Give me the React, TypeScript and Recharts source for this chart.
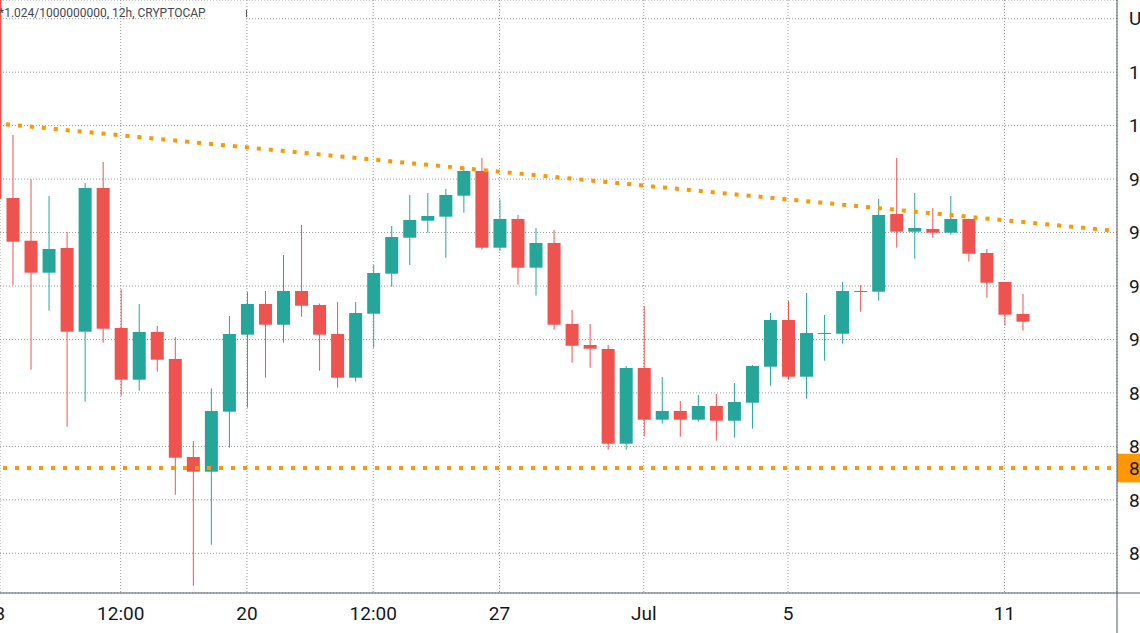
import React from 'react';
import { ComposedChart, Bar, XAxis, YAxis, CartesianGrid, ReferenceLine } from 'recharts';

// 12h candles, index 0 = Jun 13 12:00 (2022)
const slots = [-1, 0, 1, 2, 3, 4, 5, 6, 7, 8, 9, 10, 11, 12, 13, 14, 15, 16, 17, 18, 19, 20, 21, 22, 23, 24, 25, 26, 27, 28, 29, 30, 31, 32, 33, 34, 35, 36, 37, 38, 39, 40, 41, 42, 43, 44, 45, 46, 47, 48, 49, 50, 51, 52, 53, 54, 55, 56];
const opens = [1080, 966.15, 946.18, 931.22, 942.77, 903.63, 970.83, 905.36, 881.18, 903.49, 890.86, 845.04, 838.16, 866.22, 902.23, 916.58, 906.9, 922.66, 916.12, 902.56, 882.12, 912.05, 930.75, 947.59, 955.54, 957.41, 967.23, 978.78, 942.91, 956.33, 933.56, 945.11, 907.23, 897.41, 895.54, 851.25, 886.66, 862.48, 866.55, 862.48, 868.88, 862.01, 870.43, 887.26, 909.1, 882.58, 902.56, 902.69, 922.66, 922.33, 958.67, 950.39, 951.66, 949.93, 956.33, 940.44, 926.87, 911.91];
const highs = [1085, 995.61, 974.9, 967.09, 950.25, 973.17, 982.99, 923.46, 916.58, 906.3, 901.15, 852.52, 877.16, 910.97, 922.2, 922.66, 939.5, 953.53, 916.8, 917.52, 917.52, 934.82, 953.06, 967.56, 968.49, 970.36, 980.79, 984.86, 965.55, 958.2, 952.12, 951.19, 913.78, 907.23, 897.41, 887.59, 915.65, 882.45, 871.22, 874.02, 874.49, 879.64, 888.06, 912.37, 917.98, 921.73, 911.44, 926.87, 925.47, 965.69, 984.86, 968.49, 961.47, 967.09, 956.5, 942.3, 926.87, 921.26];
const lows = [960, 925.47, 885.86, 913.45, 859.2, 870.9, 898.49, 873.7, 876.04, 884.92, 827.4, 784.85, 804.02, 849.38, 868.09, 882.12, 898.49, 910.65, 885.39, 877.44, 880.25, 896.14, 924.67, 934.82, 949.93, 938.24, 959.28, 941.98, 941.51, 925.61, 920.47, 904.57, 889.13, 886.79, 848.45, 848.45, 854.72, 860.61, 854.53, 861.54, 852.66, 854.06, 858.27, 878.38, 881.18, 872.3, 890.07, 898.02, 912.98, 918.13, 942.91, 937.77, 947.59, 948.99, 936.37, 919.53, 906.43, 904.1];
const closes = [965.8, 945.72, 931.22, 942.3, 903.63, 970.83, 905.03, 881.18, 903.49, 890.54, 844.71, 838.16, 866.55, 902.56, 916.58, 906.9, 922.66, 915.79, 902.23, 882.12, 912.37, 931.08, 947.92, 955.87, 957.74, 967.56, 978.78, 942.91, 956.33, 933.56, 945.11, 906.9, 897.08, 895.68, 851.25, 886.66, 862.48, 866.55, 862.48, 868.88, 862.01, 870.76, 887.59, 909.1, 882.58, 903.02, 903.02, 922.66, 922.2, 958.2, 950.39, 952.12, 949.93, 956.33, 940.11, 926.54, 911.58, 908.31];

const xTickSlots = [-1, 6, 13, 20, 27, 35, 43, 55];
const xTickLabels = ['13', '12:00', '20', '12:00', '27', 'Jul', '5', '11'];
const yTicks = [800, 825, 850, 875, 900, 925, 950, 975, 1000, 1025, 1050];

const supportLevel = 839.9;
const trendStart = { x: -0.6931, y: 1000.9 };
const trendEnd = { x: 61.24, y: 950.7 };

const xDomain = [-0.6931, 61.24];
const yDomain = [781.435, 1058.745];

const data = slots.map((k, i) => ({
  k,
  open: opens[i],
  high: highs[i],
  low: lows[i],
  close: closes[i],
}));

const UP = '#26A69A';
const DOWN = '#EF5350';
const ORANGE = '#FF9800';
const TEXT = '#131722';
const FONT = 'Roboto, "Liberation Sans", sans-serif';

const Candle = (props: any) => {
  const { x, y, width, height, payload } = props;
  if (payload == null || height == null) return null;
  const { open, close, high, low } = payload;
  const up = close >= open;
  const color = up ? UP : DOWN;
  const ratio = height / (high - low);
  const yOpen = y + (high - open) * ratio;
  const yClose = y + (high - close) * ratio;
  const top = Math.min(yOpen, yClose);
  const bodyH = Math.max(Math.abs(yOpen - yClose), 1);
  const cx = x + width / 2;
  return (
    <g>
      <line x1={cx} x2={cx} y1={y} y2={y + height} stroke={color} strokeWidth={1} />
      <rect x={x} y={top} width={width} height={bodyH} fill={color} />
    </g>
  );
};

const PriceTag = (props: any) => {
  const vb = props.viewBox || {};
  const x = (vb.x || 0) + (vb.width || 0);
  const y = vb.y || 0;
  return (
    <g>
      <rect x={x} y={y - 14.3} width={23} height={28.7} fill={ORANGE} />
      <text x={x + 12} y={y} dy="0.355em" fontSize={19} fontFamily={FONT} fill={TEXT}>
        {supportLevel.toFixed(2)}
      </text>
    </g>
  );
};

const xLabel = (v: number) => {
  const i = xTickSlots.indexOf(v);
  return i >= 0 ? xTickLabels[i] : '';
};
const yLabel = (v: number) => (v === 1050 ? 'USD' : v.toFixed(2));

export default function App() {
  return (
    <div style={{ position: 'absolute', left: 0, top: 0, width: 1140, height: 633, background: '#fff' }}>
      <ComposedChart width={1140} height={633} data={data} margin={{ top: 0, right: 0, bottom: 0, left: 0 }}>
        <CartesianGrid stroke="#9a9a9a" strokeDasharray="1 2" />
        <XAxis
          dataKey="k"
          type="number"
          domain={xDomain}
          allowDataOverflow
          ticks={xTickSlots}
          interval={0}
          tickFormatter={xLabel}
          tickLine={false}
          axisLine={{ stroke: '#555a66' }}
          height={40}
          tickMargin={7.5}
          tick={{ fontSize: 19, fontFamily: FONT, fill: TEXT }}
        />
        <YAxis
          orientation="right"
          type="number"
          domain={yDomain}
          allowDataOverflow
          ticks={yTicks}
          interval={0}
          tickFormatter={yLabel}
          tickLine={false}
          axisLine={{ stroke: '#555a66' }}
          width={23}
          tickMargin={6}
          tick={{ fontSize: 19, fontFamily: FONT, fill: TEXT }}
        />
        <Bar
          dataKey={(d: any) => [d.low, d.high]}
          barSize={13}
          shape={<Candle />}
          isAnimationActive={false}
        />
        <ReferenceLine
          segment={[trendStart, trendEnd]}
          stroke={ORANGE}
          strokeWidth={4}
          strokeDasharray="4 8"
          strokeDashoffset={6}
          ifOverflow="visible"
        />
        <ReferenceLine
          y={supportLevel}
          stroke={ORANGE}
          strokeWidth={4}
          strokeDasharray="4 8"
          strokeDashoffset={6}
          label={<PriceTag />}
        />
      </ComposedChart>
      <svg
        width={1140}
        height={633}
        style={{ position: 'absolute', left: 0, top: 0, pointerEvents: 'none' }}
      >
        <rect x={205} y={14} width={41} height={10} fill="#fff" />
        <line x1={246.5} x2={246.5} y1={10} y2={17} stroke="#555" strokeWidth={1} />
        <text x={-1} y={16.7} fontSize={12} fontFamily={FONT} fill="#434651">
          *1.024/1000000000, 12h, CRYPTOCAP
        </text>
        <line x1={1117} x2={1117} y1={593} y2={633} stroke="#555a66" strokeWidth={1} />
        <line x1={1117} x2={1140} y1={593} y2={593} stroke="#555a66" strokeWidth={1} />
      </svg>
    </div>
  );
}
